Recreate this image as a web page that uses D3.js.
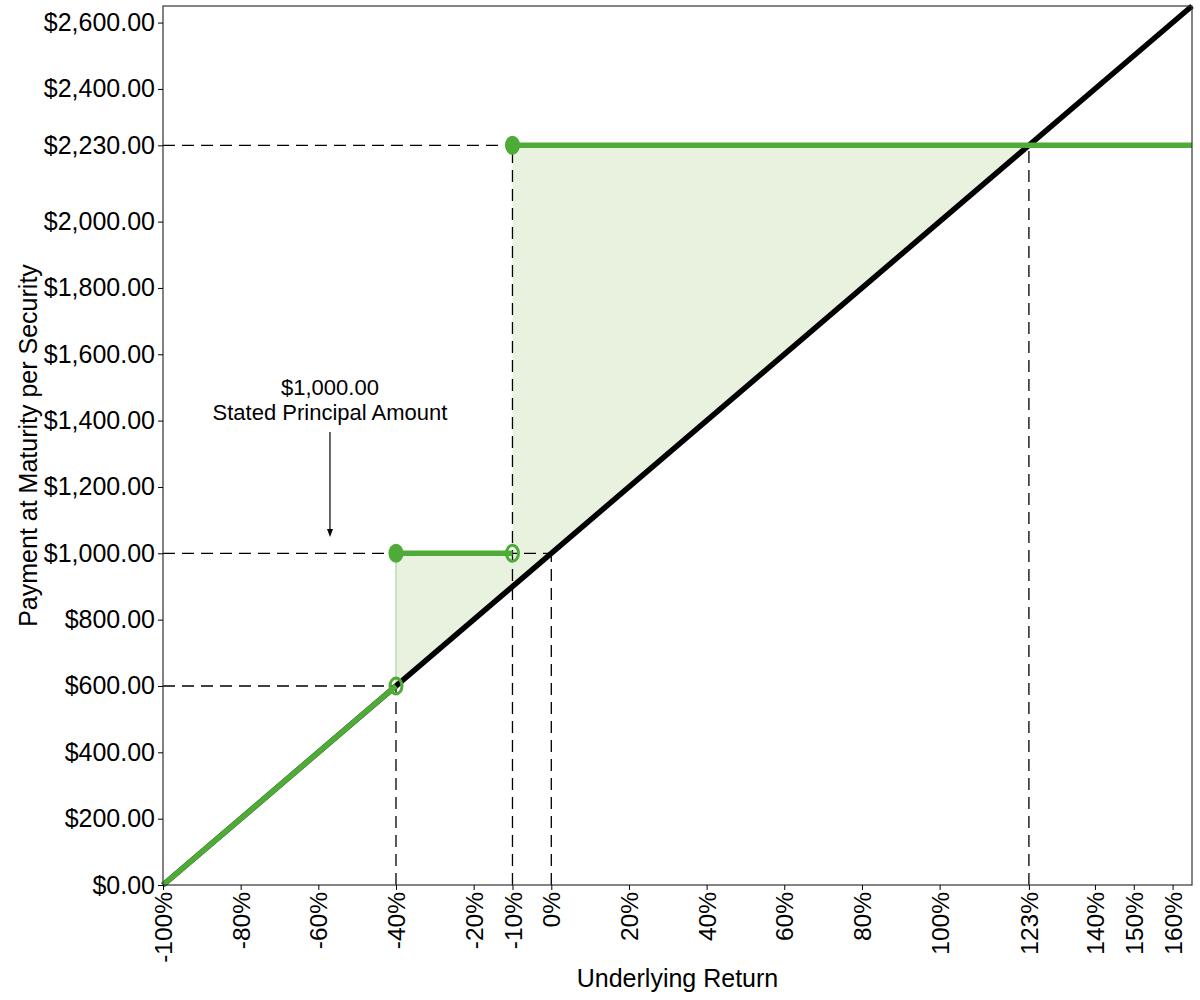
<!DOCTYPE html>
<html>
<head>
<meta charset="utf-8">
<script src="https://cdn.jsdelivr.net/npm/d3@7"></script>
<style>
  body { margin: 0; background: #fff; }
  svg { font-family: "Liberation Sans", Arial, sans-serif; }
</style>
</head>
<body>
<div id="chart"></div>
<script>
// underlying return ticks (%) and payment ticks ($)
const returnTicks = [-100, -80, -60, -40, -20, -10, 0, 20, 40, 60, 80, 100, 123, 140, 150, 160];
const paymentTicks = [0, 200, 400, 600, 800, 1000, 1200, 1400, 1600, 1800, 2000, 2230, 2400, 2600];

// underlying (1:1) line and the security's payoff pieces
const underlying = [[-100, 0], [165, 2650]];
const payoffLow = [[-100, 0], [-40, 600]];
const payoffMid = [[-40, 1000], [-10, 1000]];
const payoffHigh = [[-10, 2230], [165, 2230]];
const filledDots = [[-40, 1000], [-10, 2230]];
const openDots = [[-40, 600], [-10, 1000]];
const outperform = [[-40, 600], [-40, 1000], [-10, 1000], [-10, 2230], [123, 2230]];

// dashed guides: horizontal [payment, return at end], vertical [return, payment at top]
const hGuides = [[600, -40], [1000, 0], [2230, -10]];
const vGuides = [[-40, 600], [-10, 2230], [0, 1000], [123, 2230]];

const width = 1200, height = 1000;
const margin = { left: 163, right: 8, top: 6, bottom: 115 };
const innerW = width - margin.left - margin.right;
const innerH = height - margin.top - margin.bottom;

const green = "#4fab38";

const svg = d3.select("#chart").append("svg")
  .attr("width", width).attr("height", height);
const g = svg.append("g").attr("transform", `translate(${margin.left},${margin.top})`);

const x = d3.scaleLinear().domain([-100, 165]).range([0, innerW]);
const y = d3.scaleLinear().domain([0, 2650]).range([innerH, 0]);

const line = d3.line().x(d => x(d[0])).y(d => y(d[1]));

// shaded area
g.append("path")
  .datum(outperform)
  .attr("d", d => line(d) + "Z")
  .attr("fill", "#e9f2df");

// light edge at -40%
g.append("path")
  .datum([[-40, 600], [-40, 1000]])
  .attr("d", line)
  .attr("stroke", "#b9dcae")
  .attr("stroke-width", 1.5)
  .attr("fill", "none");

// guides
const dash = "12,7";
g.append("g").selectAll("line").data(hGuides).join("line")
  .attr("x1", 0).attr("x2", d => x(d[1]))
  .attr("y1", d => y(d[0])).attr("y2", d => y(d[0]))
  .attr("stroke", "#000").attr("stroke-width", 1.3).attr("stroke-dasharray", dash);
g.append("g").selectAll("line").data(vGuides).join("line")
  .attr("x1", d => x(d[0])).attr("x2", d => x(d[0]))
  .attr("y1", innerH).attr("y2", d => y(d[1]))
  .attr("stroke", "#000").attr("stroke-width", 1.3).attr("stroke-dasharray", dash);

// underlying line
g.append("path").datum(underlying).attr("d", line)
  .attr("stroke", "#000").attr("stroke-width", 5.5).attr("fill", "none");

// payoff lines
g.append("g").selectAll("path").data([payoffLow, payoffMid, payoffHigh]).join("path")
  .attr("d", line)
  .attr("stroke", green).attr("stroke-width", 5.5).attr("fill", "none");

g.append("g").selectAll("ellipse").data(filledDots).join("ellipse")
  .attr("cx", d => x(d[0])).attr("cy", d => y(d[1]))
  .attr("rx", 7.5).attr("ry", 9.5)
  .attr("fill", green);
g.append("g").selectAll("ellipse").data(openDots).join("ellipse")
  .attr("cx", d => x(d[0])).attr("cy", d => y(d[1]))
  .attr("rx", 6).attr("ry", 8)
  .attr("fill", "none").attr("stroke", green).attr("stroke-width", 3);

// frame
g.append("rect")
  .attr("width", innerW).attr("height", innerH)
  .attr("fill", "none").attr("stroke", "#333").attr("stroke-width", 1.2);

// axes
const yAxis = g.append("g")
  .call(d3.axisLeft(y).tickValues(paymentTicks).tickFormat(d3.format("$,.2f")).tickSize(5).tickPadding(3));
yAxis.select(".domain").remove();
yAxis.selectAll("text").attr("font-size", 25).attr("fill", "#000");

const xAxis = g.append("g")
  .attr("transform", `translate(0,${innerH})`)
  .call(d3.axisBottom(x).tickValues(returnTicks).tickFormat(d => d + "%").tickSize(5));
xAxis.select(".domain").remove();
xAxis.selectAll("text")
  .attr("font-size", 24.5).attr("fill", "#000")
  .attr("transform", "rotate(-90)")
  .attr("text-anchor", "end")
  .attr("x", -7).attr("y", 0).attr("dy", "0.35em");

// axis titles
svg.append("text")
  .attr("x", margin.left + innerW / 2).attr("y", 987)
  .attr("text-anchor", "middle").attr("font-size", 25)
  .text("Underlying Return");
svg.append("text")
  .attr("transform", `translate(37,${margin.top + innerH / 2}) rotate(-90)`)
  .attr("text-anchor", "middle").attr("font-size", 25)
  .text("Payment at Maturity per Security");

// annotation
const ax = x(-57);
g.append("text").attr("x", ax).attr("y", 395 - margin.top)
  .attr("text-anchor", "middle").attr("font-size", 22).text("$1,000.00");
g.append("text").attr("x", ax).attr("y", 420 - margin.top)
  .attr("text-anchor", "middle").attr("font-size", 22).text("Stated Principal Amount");
g.append("line")
  .attr("x1", ax).attr("x2", ax)
  .attr("y1", 432 - margin.top).attr("y2", 531 - margin.top)
  .attr("stroke", "#000").attr("stroke-width", 1.2);
g.append("path")
  .attr("d", `M${ax - 3},${529 - margin.top}L${ax + 3},${529 - margin.top}L${ax},${537 - margin.top}Z`)
  .attr("fill", "#000");
</script>
</body>
</html>
